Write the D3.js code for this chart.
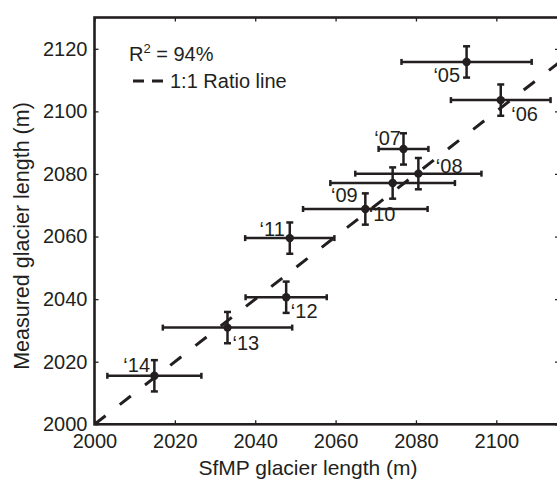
<!DOCTYPE html>
<html>
<head>
<meta charset="utf-8">
<script src="https://cdn.jsdelivr.net/npm/d3@7"></script>
<style>
  body { margin: 0; background: #fff; }
  text { font-family: "Liberation Sans", Arial, sans-serif; fill: #231f20; }
</style>
</head>
<body>
<div id="chart"></div>
<script>
// survey years and lengths (m)
var years = ['‘05', '‘06', '‘07', '‘08', '‘09', '‘10', '‘11', '‘12', '‘13', '‘14'];
var sfmp = [2092.6, 2101.1, 2076.9, 2080.6, 2074.2, 2067.4, 2048.6, 2047.7, 2033.1, 2014.9];
var sfmpErr = [16.2, 12.4, 6.2, 15.7, 15.5, 15.5, 11.1, 10.1, 16.1, 11.7];
var measured = [2115.8, 2103.6, 2088.0, 2080.1, 2077.1, 2068.8, 2059.5, 2040.6, 2030.9, 2015.5];
var measuredErr = [5, 5, 5, 5, 5, 5, 5, 5, 5, 5];
var xTicks = [2000, 2020, 2040, 2060, 2080, 2100];
var yTicks = [2000, 2020, 2040, 2060, 2080, 2100, 2120];
var ratioLine = [2000, 2130];

var width = 557, height = 480;
var pLeft = 94.5, pRight = 559, pTop = 17.5, pBottom = 424.3;

var svg = d3.select('#chart').append('svg')
    .attr('width', width)
    .attr('height', height);

var x = d3.scaleLinear()
    .domain([2000, 2115.6])
    .range([pLeft, pRight]);
var y = d3.scaleLinear()
    .domain([2000, 2130])
    .range([pBottom, pTop]);

svg.append('clipPath').attr('id', 'clip')
  .append('rect')
    .attr('x', pLeft).attr('y', pTop)
    .attr('width', pRight - pLeft).attr('height', pBottom - pTop);

// axes: labels on bottom/left, ticks only on top/right
var gx = svg.append('g')
    .attr('transform', `translate(0,${pBottom})`)
    .call(d3.axisBottom(x).tickValues(xTicks).tickSize(-4).tickPadding(10).tickFormat(d3.format('d')));
var gy = svg.append('g')
    .attr('transform', `translate(${pLeft},0)`)
    .call(d3.axisLeft(y).tickValues(yTicks).tickSize(-4).tickPadding(7).tickFormat(d3.format('d')));
var gt = svg.append('g')
    .attr('transform', `translate(0,${pTop})`)
    .call(d3.axisTop(x).tickValues(xTicks).tickSize(-4).tickFormat(''));
var gr = svg.append('g')
    .attr('transform', `translate(${pRight},0)`)
    .call(d3.axisRight(y).tickValues(yTicks).tickSize(-4).tickFormat(''));

[gx, gy, gt, gr].forEach(function(g) {
    g.select('.domain').remove();
    g.selectAll('line').attr('stroke', '#231f20').attr('stroke-width', 1.3);
    g.selectAll('text').attr('font-size', 20).attr('fill', '#231f20')
        .style('font-family', '"Liberation Sans", Arial, sans-serif');
});

svg.append('rect')
    .attr('x', pLeft).attr('y', pTop)
    .attr('width', pRight - pLeft).attr('height', pBottom - pTop)
    .attr('fill', 'none')
    .attr('stroke', '#231f20')
    .attr('stroke-width', 2.6);

// 1:1 line
svg.append('line')
    .attr('clip-path', 'url(#clip)')
    .attr('x1', x(ratioLine[0])).attr('y1', y(ratioLine[0]))
    .attr('x2', x(ratioLine[1])).attr('y2', y(ratioLine[1]))
    .attr('stroke', '#231f20')
    .attr('stroke-width', 3)
    .attr('stroke-dasharray', '14,18');

var data = years.map(function(d, i) {
    return { year: d, x: sfmp[i], xe: sfmpErr[i], y: measured[i], ye: measuredErr[i] };
});

var pts = svg.append('g').selectAll('g').data(data).join('g');

// horizontal error bars
pts.append('line')
    .attr('x1', d => x(d.x - d.xe)).attr('x2', d => x(d.x + d.xe))
    .attr('y1', d => y(d.y)).attr('y2', d => y(d.y));
pts.append('line')
    .attr('x1', d => x(d.x - d.xe)).attr('x2', d => x(d.x - d.xe))
    .attr('y1', d => y(d.y) - 3).attr('y2', d => y(d.y) + 3);
pts.append('line')
    .attr('x1', d => x(d.x + d.xe)).attr('x2', d => x(d.x + d.xe))
    .attr('y1', d => y(d.y) - 3).attr('y2', d => y(d.y) + 3);
// vertical error bars
pts.append('line')
    .attr('x1', d => x(d.x)).attr('x2', d => x(d.x))
    .attr('y1', d => y(d.y - d.ye)).attr('y2', d => y(d.y + d.ye));
pts.append('line')
    .attr('x1', d => x(d.x) - 3.5).attr('x2', d => x(d.x) + 3.5)
    .attr('y1', d => y(d.y - d.ye)).attr('y2', d => y(d.y - d.ye));
pts.append('line')
    .attr('x1', d => x(d.x) - 3.5).attr('x2', d => x(d.x) + 3.5)
    .attr('y1', d => y(d.y + d.ye)).attr('y2', d => y(d.y + d.ye));
pts.selectAll('line')
    .attr('stroke', '#231f20')
    .attr('stroke-width', 2.5);

pts.append('circle')
    .attr('cx', d => x(d.x)).attr('cy', d => y(d.y))
    .attr('r', 4.2)
    .attr('fill', '#231f20');

// where each year label sits relative to its point
var place = {
    '‘05': ['end', -6.5, 20.4],
    '‘06': ['start', 10.5, 21],
    '‘07': ['end', -2.5, -3.6],
    '‘08': ['start', 17.5, -0.7],
    '‘09': ['end', -35, 19],
    '‘10': ['start', 3.4, 12.4],
    '‘11': ['end', -5, -2.5],
    '‘12': ['start', 4.7, 20.4],
    '‘13': ['start', 5, 22.3],
    '‘14': ['end', -4.3, -3.3]
};
pts.append('text')
    .attr('x', d => x(d.x) + place[d.year][1])
    .attr('y', d => y(d.y) + place[d.year][2])
    .attr('text-anchor', d => place[d.year][0])
    .attr('font-size', 20)
    .text(d => d.year);

// legend
var r2 = svg.append('text')
    .attr('x', 129)
    .attr('y', 61)
    .attr('font-size', 20);
r2.append('tspan').text('R');
r2.append('tspan').attr('font-size', 13).attr('dy', -8).text('2');
r2.append('tspan').attr('dy', 8).text(' = 94%');

svg.append('line')
    .attr('x1', 133).attr('x2', 164)
    .attr('y1', 81).attr('y2', 81)
    .attr('stroke', '#231f20')
    .attr('stroke-width', 3)
    .attr('stroke-dasharray', '11,8');
svg.append('text')
    .attr('x', 170)
    .attr('y', 88)
    .attr('font-size', 20)
    .text('1:1 Ratio line');

// axis titles
svg.append('text')
    .attr('x', 308)
    .attr('y', 475)
    .attr('text-anchor', 'middle')
    .attr('font-size', 21)
    .text('SfMP glacier length (m)');
svg.append('text')
    .attr('transform', 'translate(28.5,236) rotate(-90)')
    .attr('text-anchor', 'middle')
    .attr('font-size', 21.5)
    .text('Measured glacier length (m)');
</script>
</body>
</html>
